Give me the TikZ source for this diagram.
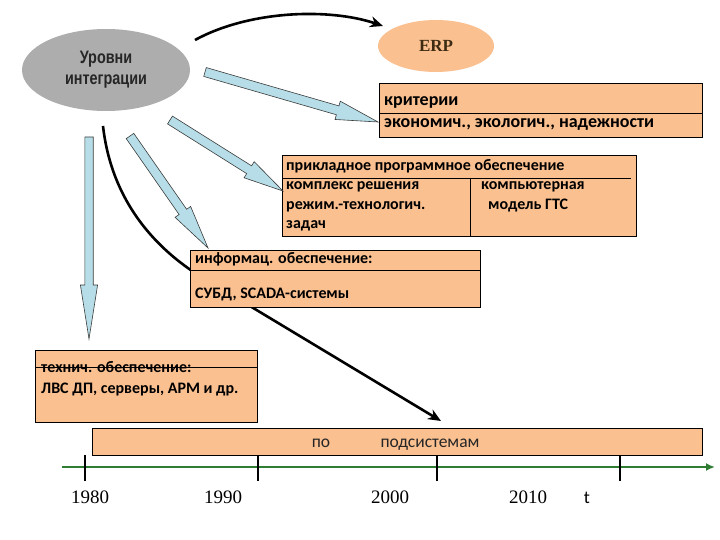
\documentclass[tikz,border=0pt]{standalone}
\usepackage{fontspec}
\setmainfont{Carlito}
\newfontfamily\yearfont{Liberation Serif}
\newfontfamily\narrowfont[FakeStretch=0.8]{Liberation Sans Bold}
\usepackage{xcolor}
\usetikzlibrary{shapes.geometric,calc,arrows.meta}
\definecolor{peach}{HTML}{FAC090}
\definecolor{levelgray}{HTML}{ADADAD}
\definecolor{arrowblue}{HTML}{B7DEE8}
\definecolor{arrowline}{HTML}{3A3A3A}
\definecolor{timegreen}{HTML}{2E7D32}
\definecolor{erpbrown}{HTML}{3D2B12}

\tikzset{
  peachbox/.style={draw=black, fill=peach, line width=0.8pt, inner sep=0pt, anchor=north west},
  boxtext/.style={anchor=base west, inner sep=0pt, font=\fontsize{16}{19}\selectfont\bfseries},
  bigboxtext/.style={boxtext, font=\fontsize{18}{21}\selectfont\bfseries},
  bartext/.style={anchor=base, inner sep=0pt, font=\fontsize{17.5}{20}\selectfont, text=black!85},
  yearlabel/.style={anchor=base, inner sep=0pt, font=\yearfont\fontsize{19}{22}\selectfont},
  fatarrow/.style={fill=arrowblue, draw=arrowline, line width=0.6pt, line join=miter},
  blackcurve/.style={line width=2.6pt, -{Stealth[length=13pt,width=11pt]}}
}

% fat arrow: tail, tip, shaft half width, head half width, head length
\newcommand{\fatarrow}[5]{%
  \path ($(#2)!#5!(#1)$) coordinate (neck);
  \filldraw[fatarrow] ($(#1)!#3!90:(#2)$) -- ($(neck)!#3!90:(#2)$) -- ($(neck)!#4!90:(#2)$)
    -- (#2) -- ($(neck)!#4!-90:(#2)$) -- ($(neck)!#3!-90:(#2)$) -- ($(#1)!#3!-90:(#2)$) -- cycle;
}

\begin{document}
\begin{tikzpicture}[x=1pt, y=-1pt]
  \useasboundingbox (0,0) rectangle (720,540);

  % Levels ellipse and ERP
  \node[ellipse, fill=levelgray, minimum width=168, minimum height=82, inner sep=0pt,
        align=center, text=black!85, font=\narrowfont\fontsize{18}{21}\selectfont] (levels) at (106,70) {Уровни\\интеграции};
  \node[ellipse, fill=peach, minimum width=116, minimum height=52, inner sep=0pt,
        text=erpbrown, font=\yearfont\bfseries\fontsize{17}{20}\selectfont] (erp) at (436,46) {ERP};

  % curve from the levels to ERP
  \coordinate (erpFrom) at (195,40);
  \coordinate (erpTo) at (383,26);
  \draw[blackcurve] (erpFrom) .. controls (250,10) and (330,8) .. (erpTo);

  % long curve down to the subsystems bar (passes under the info box)
  \coordinate (subFrom) at (103,126);
  \coordinate (subBend) at (215,285);
  \coordinate (subTo) at (441,421);
  \draw[blackcurve] (subFrom) .. controls (112,205) and (160,255) .. (subBend) -- (subTo);

  % criteria box
  \node[peachbox, minimum width=323, minimum height=54] (crit) at (379,83) {};
  \draw[line width=0.6pt] ($(crit.north west)+(0,30)$) -- ($(crit.north east)+(0,30)$);
  \node[bigboxtext] (critA) at (384,106) {критерии};
  \node[bigboxtext] (critB) at (384,128) {экономич., экологич., надежности};

  % application software box
  \node[peachbox, minimum width=354, minimum height=81] (soft) at (282,155) {};
  \draw[line width=0.6pt] ($(soft.north west)+(0,23)$) -- ($(soft.north east)+(-6,23)$);
  \draw[line width=0.6pt] (470,178) -- (soft.south -| 470,0);
  \node[boxtext] (softA) at (286,171) {прикладное программное обеспечение};
  \node[boxtext] (softB) at (286,190) {комплекс решения};
  \node[boxtext] (softC) at (286,210) {режим.-технологич.};
  \node[boxtext] (softD) at (286,229) {задач};
  \node[boxtext] (softE) at (481,190) {компьютерная};
  \node[boxtext] (softF) at (488,210) {модель ГТС};

  % information box
  \node[peachbox, minimum width=290, minimum height=57] (info) at (190,250) {};
  \draw[line width=0.6pt] ($(info.north west)+(0,20)$) -- ($(info.north east)+(0,20)$);
  \node[boxtext] (infoA) at (195,263) {информац. обеспечение:};
  \node[boxtext] (infoB) at (195,298) {СУБД, SCADA-системы};

  % hardware box
  \node[peachbox, minimum width=222, minimum height=72] (tech) at (35,350) {};
  \node[boxtext] (techA) at (41,372) {технич. обеспечение:};
  \draw[line width=0.6pt] ($(tech.north west)+(0,17)$) -- ($(tech.north east)+(0,17)$);
  \node[boxtext] (techB) at (41,393) {ЛВС ДП, серверы, АРМ и др.};

  % subsystems bar
  \node[peachbox, minimum width=610, minimum height=27] (sub) at (92,428) {};
  \node[bartext] (subA) at (321,447) {по};
  \node[bartext] (subB) at (430,447) {подсистемам};

  % fat arrows from the levels
  \coordinate (critFrom) at (205,72);  \coordinate (critTip) at (378,122);
  \coordinate (softFrom) at (170,120); \coordinate (softTip) at (283,191);
  \coordinate (infoFrom) at (130,136); \coordinate (infoTip) at (208,248);
  \coordinate (techFrom) at (89,137);  \coordinate (techTip) at (89,339);
  \fatarrow{critFrom}{critTip}{4.6pt}{9.5pt}{42pt}
  \fatarrow{softFrom}{softTip}{4.6pt}{9.5pt}{40pt}
  \fatarrow{infoFrom}{infoTip}{4.6pt}{9.5pt}{44pt}
  \fatarrow{techFrom}{techTip}{4.2pt}{8.6pt}{54pt}

  % time axis
  \draw[timegreen, line width=1.8pt, -{Latex[length=9pt,width=8pt]}] (62,467) -- (715,467);
  \foreach \tx in {85,258,437,620} {
    \draw[line width=1.3pt] (\tx,455) -- (\tx,481);
  }
  \foreach \yx/\yl in {90/1980, 223/1990, 390/2000, 528/2010} {
    \node[yearlabel] at (\yx,503) {\yl};
  }
  \node[bartext, font=\fontsize{18}{20}\selectfont, text=black] (tlabel) at (587,503) {t};
\end{tikzpicture}
\end{document}
